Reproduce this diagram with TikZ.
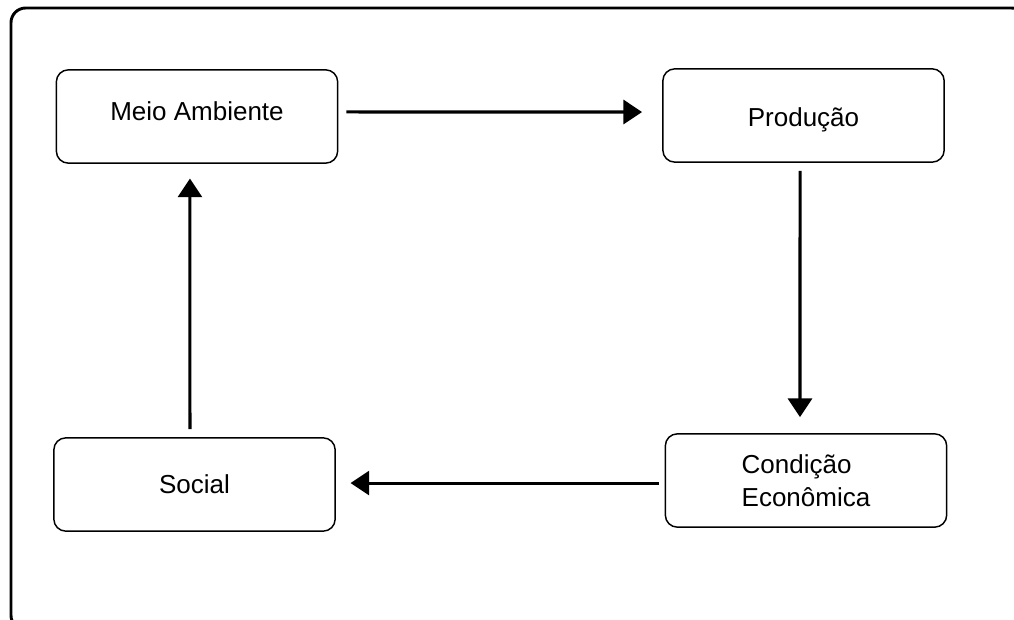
\documentclass[tikz,border=0pt]{standalone}
\usepackage{fontspec}
\setmainfont{Liberation Sans}
\usetikzlibrary{arrows.meta}
\begin{document}
\begin{tikzpicture}[x=0.75pt,y=-0.75pt,
  box/.style={draw, line width=1.1pt, rounded corners=9pt, minimum width=211pt, minimum height=70pt, inner sep=0pt, font=\fontsize{19.5}{25}\selectfont},
  one/.style={text height=13pt, text depth=7pt},
  arr/.style={line width=2.3pt, -{Triangle[length=14pt,width=18pt]}},
  frame/.style={line width=2.2pt, rounded corners=11pt}]
\useasboundingbox (0,0) rectangle (1014,620);
\clip (0,0) rectangle (1014,620);
\draw[frame] (11,8) rectangle (1026,630);
\node[box, one] (meio) at (197,116.5) {Meio Ambiente};
\node[box, one] (prod) at (803.5,115.5) {\raisebox{-5.2pt}{Produção}};
\node[box, align=left] (cond) at (806,480.5) {Condição\\Econômica};
\node[box, one] (social) at (194.5,484.5) {\raisebox{-3.4pt}{Social}};
\draw[arr] ([xshift=6pt,yshift=3.4pt]meio.east) -- ([xshift=-15pt,yshift=2.6pt]prod.west);
\draw[arr] ([xshift=-2.6pt,yshift=-6pt]prod.south) -- ([xshift=-4.5pt,yshift=12pt]cond.north);
\draw[arr] ([xshift=-4.5pt,yshift=-1.9pt]cond.west) -- ([xshift=11pt,yshift=1.1pt]social.east);
\draw[arr] ([xshift=-3.4pt,yshift=6pt]social.north) -- ([xshift=-5.3pt,yshift=-11pt]meio.south);
\end{tikzpicture}
\end{document}
